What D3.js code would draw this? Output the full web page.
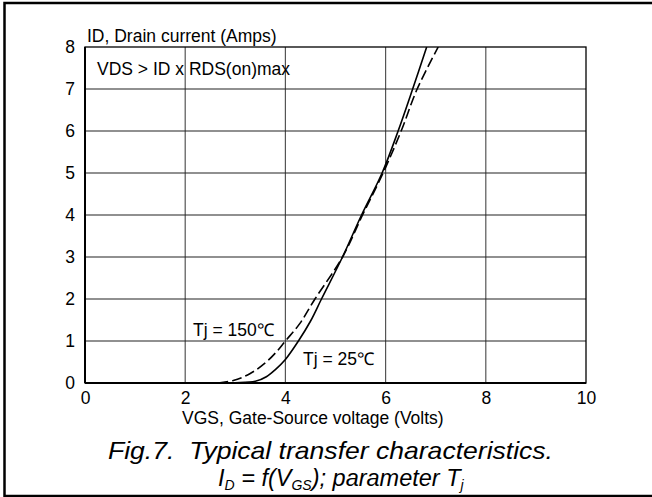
<!DOCTYPE html>
<html><head><meta charset="utf-8">
<script src="https://cdn.jsdelivr.net/npm/d3@7"></script>
<style>body{margin:0;background:#fff}svg{display:block}text{font-family:Arial,"Liberation Sans",sans-serif;fill:#000}</style>
</head><body>
<svg id="c" width="652" height="497"></svg>
<script>
const xTicks = [0, 2, 4, 6, 8, 10];
const yTicks = [0, 1, 2, 3, 4, 5, 6, 7, 8];
const vgs25 = [2.62, 3.0, 3.4, 3.62, 3.8, 4.0, 4.26, 4.5, 4.72, 5.14, 5.52, 5.93, 6.25, 6.54, 6.82];
const id25  = [0, 0.005, 0.04, 0.15, 0.32, 0.56, 1.0, 1.47, 2.0, 3.0, 4.0, 5.0, 6.0, 7.0, 8.0];
const vgs150 = [2.66, 2.96, 3.29, 3.6, 3.82, 4.0, 4.29, 4.59, 5.14, 5.54, 5.95, 6.31, 6.63, 7.05];
const id150  = [0, 0.06, 0.22, 0.48, 0.74, 1.0, 1.42, 2.0, 3.0, 4.0, 5.0, 6.0, 7.0, 8.0];

const svg = d3.select("#c");
const x = d3.scaleLinear().domain([0, 10]).range([85, 586]);
const y = d3.scaleLinear().domain([0, 8]).range([383, 47]);

// outer frame
svg.append("rect").attr("x", 4.5).attr("y", 3).attr("width", 700).attr("height", 493)
  .attr("fill", "none").attr("stroke", "#000").attr("stroke-width", 2.5);

// grid
svg.append("g").selectAll("line").data(xTicks.slice(1, -1)).join("line")
  .attr("x1", d => x(d)).attr("x2", d => x(d)).attr("y1", y(8)).attr("y2", y(0))
  .attr("stroke", "#555").attr("stroke-width", 1.2);
svg.append("g").selectAll("line").data(yTicks.slice(1, -1)).join("line")
  .attr("x1", x(0)).attr("x2", x(10)).attr("y1", d => y(d)).attr("y2", d => y(d))
  .attr("stroke", "#222").attr("stroke-width", 1.2);
// plot frame
svg.append("rect").attr("x", x(0)).attr("y", y(8)).attr("width", x(10) - x(0)).attr("height", y(0) - y(8))
  .attr("fill", "none").attr("stroke", "#000").attr("stroke-width", 1.3);
svg.append("line").attr("x1", x(0)).attr("x2", x(0)).attr("y1", y(8)).attr("y2", y(0)).attr("stroke", "#000").attr("stroke-width", 2);
svg.append("line").attr("x1", x(0)).attr("x2", x(10)).attr("y1", y(0)).attr("y2", y(0)).attr("stroke", "#000").attr("stroke-width", 2);

// axes via d3 axis (labels only)
const xa = svg.append("g").attr("transform", `translate(0,${y(0)})`)
  .call(d3.axisBottom(x).tickValues(xTicks).tickSize(0).tickPadding(9));
const ya = svg.append("g").attr("transform", `translate(${x(0)},0)`)
  .call(d3.axisLeft(y).tickValues(yTicks).tickSize(0).tickPadding(10));
[xa, ya].forEach(g => {
  g.attr("font-family", null).attr("font-size", null);
  g.select(".domain").remove();
  g.selectAll("text").attr("font-size", 17.5).attr("fill", "#000");
});

// curves
svg.append("defs").append("clipPath").attr("id", "clip").append("rect")
  .attr("x", x(0)).attr("y", y(8)).attr("width", x(10) - x(0)).attr("height", y(0) - y(8));
const line = d3.line().x(d => x(d[0])).y(d => y(d[1])).curve(d3.curveCatmullRom.alpha(0.5));
svg.append("path").datum(d3.zip(vgs25, id25)).attr("d", line).attr("clip-path", "url(#clip)")
  .attr("fill", "none").attr("stroke", "#000").attr("stroke-width", 1.6);
svg.append("path").datum(d3.zip(vgs150, id150)).attr("d", line).attr("clip-path", "url(#clip)")
  .attr("fill", "none").attr("stroke", "#000").attr("stroke-width", 1.6).attr("stroke-dasharray", "10,4");

// texts
const t = (s, xx, yy, fs) => svg.append("text").attr("x", xx).attr("y", yy).attr("font-size", fs).text(s);
t("ID, Drain current (Amps)", 87, 42, 17.5);
t("VDS > ID x RDS(on)max", 97, 75, 17.5);
t("Tj = 150\u2103", 193, 336, 17.5);
t("Tj = 25\u2103", 303, 365, 17.5);
t("VGS, Gate-Source voltage (Volts)", 182, 424, 17.5);

const cap1 = svg.append("text").attr("x", 108).attr("y", 459).attr("font-size", 24).attr("font-style", "italic")
  .attr("textLength", 445).attr("lengthAdjust", "spacingAndGlyphs").style("white-space", "pre");
cap1.text("Fig.7.  Typical transfer characteristics.");
const cap2 = svg.append("text").attr("x", 218).attr("y", 486).attr("font-size", 23.5).attr("font-style", "italic")
  .style("white-space", "pre");
cap2.append("tspan").text("I");
cap2.append("tspan").attr("dy", 4).attr("font-size", 14).text("D");
cap2.append("tspan").attr("dy", -4).text(" = f(V");
cap2.append("tspan").attr("dy", 4).attr("font-size", 14).text("GS");
cap2.append("tspan").attr("dy", -4).text("); parameter T");
cap2.append("tspan").attr("dy", 4).attr("font-size", 14).text("j");
</script>
</body></html>
